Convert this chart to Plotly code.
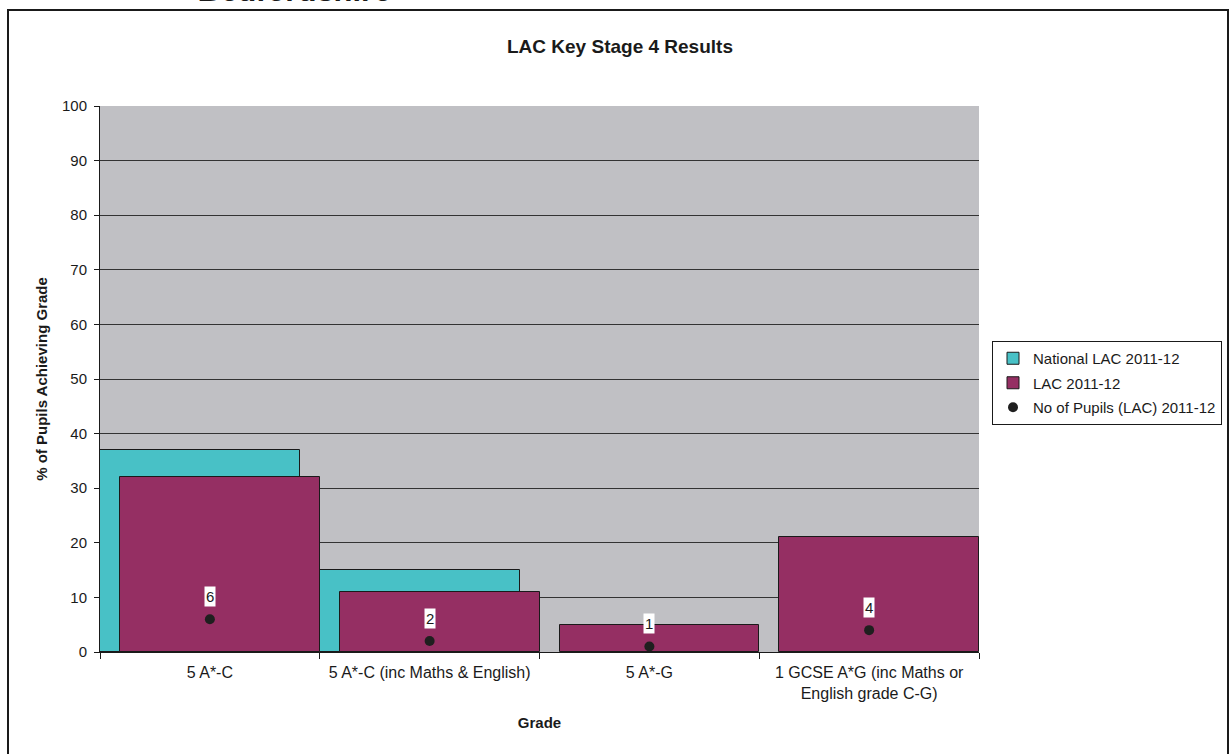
import plotly.graph_objects as go

# Key Stage 4 attainment for looked-after children, 2011-12
grades = [
    "5 A*-C",
    "5 A*-C (inc Maths & English)",
    "5 A*-G",
    "1 GCSE A*G (inc Maths or English grade C-G)",
]
grade_labels = [
    "5 A*-C",
    "5 A*-C (inc Maths & English)",
    "5 A*-G",
    "1 GCSE A*G (inc Maths or<br>English grade C-G)",
]
national_lac = [37, 15, None, None]
lac = [32, 11, 5, 21]
pupils_lac = [6, 2, 1, 4]

TEAL = "#48C1C6"
MAROON = "#952F63"
PLOT_BG = "#C0C0C4"
INK = "#1a1a1a"
FONT = "Liberation Sans, Arial, sans-serif"

W, H = 1230, 754
PLOT_L, PLOT_R, PLOT_T, PLOT_B = 100, 979, 106, 652
pw, ph = PLOT_R - PLOT_L, PLOT_B - PLOT_T


def px_x(px):
    return (px - PLOT_L) / pw


def px_y(py):
    return (PLOT_B - py) / ph


fig = go.Figure()

fig.add_trace(go.Bar(
    x=grades, y=national_lac, name="National LAC 2011-12", legendgroup="nat",
    marker=dict(color=TEAL, line=dict(color=INK, width=1)),
    width=0.909, offset=-0.5,
))
fig.add_trace(go.Bar(
    x=grades, y=lac, name="LAC 2011-12", legendgroup="lac",
    marker=dict(color=MAROON, line=dict(color=INK, width=1)),
    width=0.909, offset=-0.409,
))
fig.add_trace(go.Scatter(
    x=grades, y=pupils_lac, name="No of Pupils (LAC) 2011-12", legendgroup="num",
    mode="markers",
    marker=dict(color="#1f1f1f", size=10, symbol="circle"),
))

annotations = []
# count labels above each pupil marker
for g, n in zip(grades, pupils_lac):
    annotations.append(dict(
        x=g, y=n, xref="x", yref="y", text=str(n), showarrow=False,
        yshift=23, bgcolor="white", borderpad=1,
        font=dict(family=FONT, size=15, color=INK),
    ))

# page heading, mostly cut off by the top edge
annotations.append(dict(
    x=px_x(295), y=px_y(10.5), xref="paper", yref="paper",
    text="<b><i>Bedfordshire</i></b>", showarrow=False,
    xanchor="center", yanchor="bottom",
    font=dict(family=FONT, size=31, color=INK),
))

annotations.append(dict(
    x=px_x(620), y=px_y(47), xref="paper", yref="paper",
    text="<b>LAC Key Stage 4 Results</b>", showarrow=False,
    xanchor="center", yanchor="middle",
    font=dict(family=FONT, size=19, color=INK),
))

fig.update_layout(
    width=W, height=H,
    margin=dict(l=PLOT_L, r=W - PLOT_R, t=PLOT_T, b=H - PLOT_B, autoexpand=False),
    paper_bgcolor="white", plot_bgcolor=PLOT_BG,
    barmode="overlay", bargap=0,
    font=dict(family=FONT, size=15, color=INK),
    showlegend=True,
    legend=dict(
        x=px_x(992), y=px_y(341), xanchor="left", yanchor="top",
        bordercolor=INK, borderwidth=1, bgcolor="white",
        font=dict(family=FONT, size=15, color=INK),
        itemwidth=30, tracegroupgap=2,
    ),
    annotations=annotations,
    shapes=[dict(
        type="rect", xref="paper", yref="paper",
        x0=px_x(8), x1=px_x(1228), y0=px_y(770), y1=px_y(10),
        line=dict(color=INK, width=2), fillcolor="rgba(0,0,0,0)",
        layer="below",
    )],
)

fig.update_xaxes(
    type="category", range=[-0.5, 3.5],
    tickvals=grades, ticktext=grade_labels,
    tickson="boundaries", ticks="outside", ticklen=6, tickcolor=INK,
    showline=True, linecolor=INK, linewidth=1,
    showgrid=False, ticklabelstandoff=6,
    title=dict(text="<b>Grade</b>", font=dict(family=FONT, size=15), standoff=16),
    tickfont=dict(family=FONT, size=16, color=INK),
)
fig.update_yaxes(
    range=[0, 100], dtick=10, tick0=0,
    ticks="outside", ticklen=5, tickcolor=INK,
    showline=True, linecolor=INK, linewidth=1,
    showgrid=True, gridcolor="#333333", gridwidth=1,
    zeroline=False, ticklabelstandoff=4,
    title=dict(text="<b>% of Pupils Achieving Grade</b>", font=dict(family=FONT, size=15), standoff=10),
    tickfont=dict(family=FONT, size=15, color=INK),
)

fig.write_html("out.html")
